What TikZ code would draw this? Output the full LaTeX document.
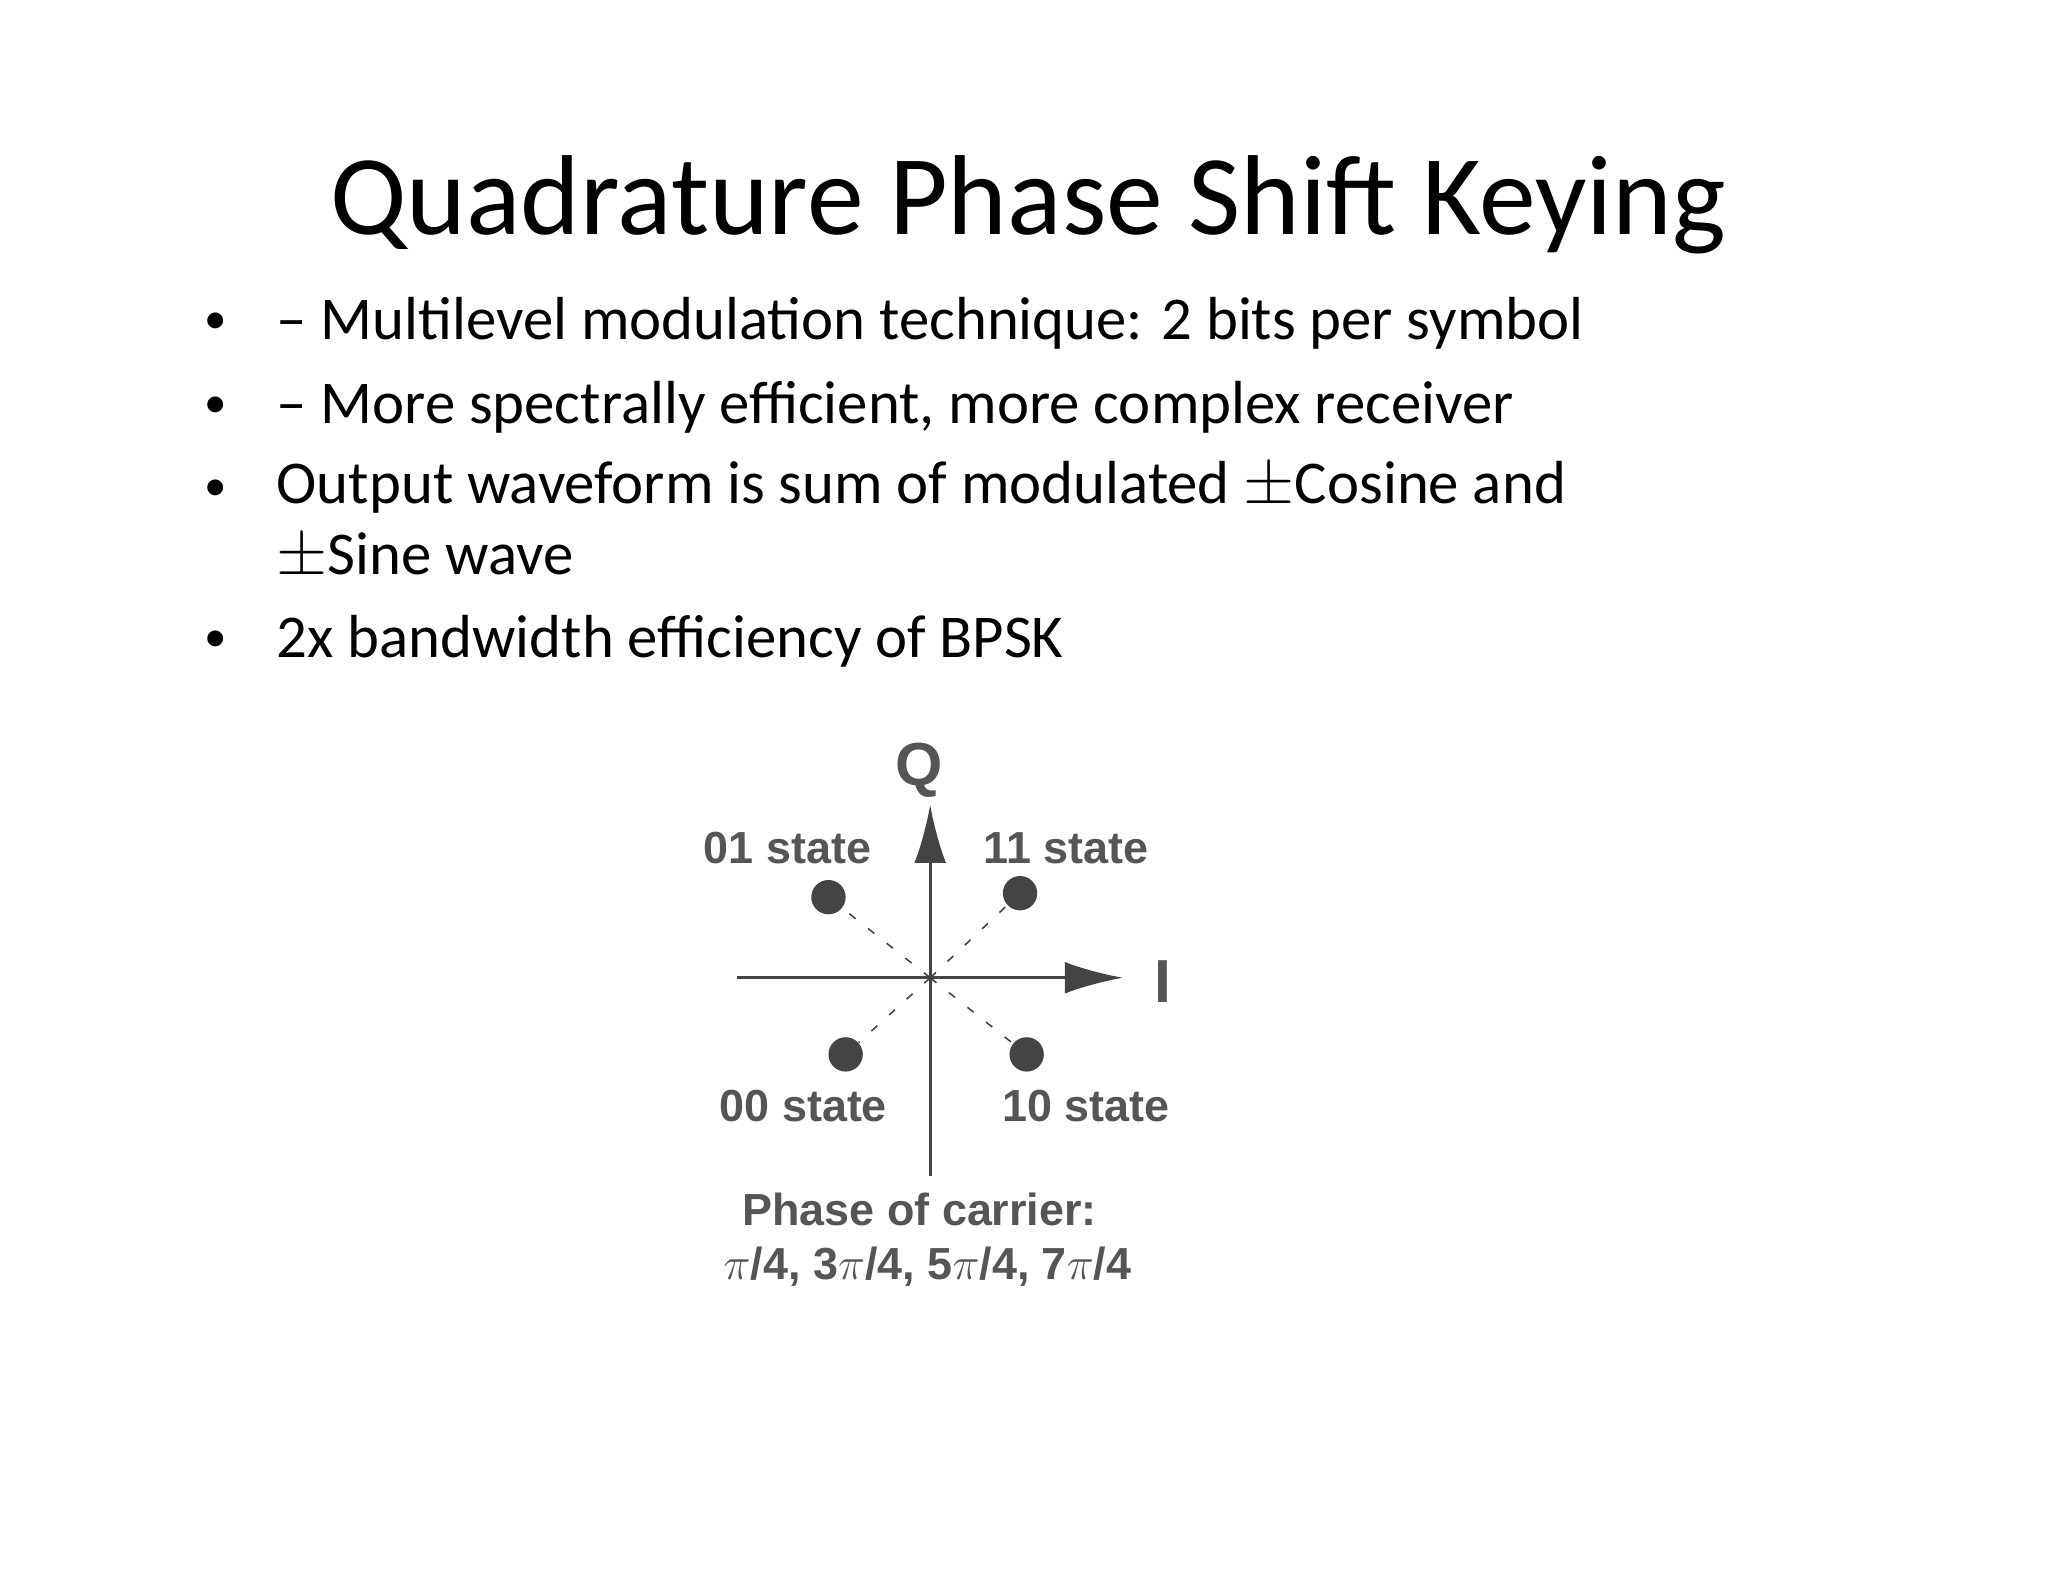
\documentclass[tikz,border=0pt]{standalone}
\usepackage{fontspec}
\setmainfont{Carlito}
\newfontfamily\arialf{Liberation Sans}
\usetikzlibrary{arrows.meta}
\definecolor{dg}{HTML}{444444}
\definecolor{lg}{HTML}{555555}
\begin{document}
\begin{tikzpicture}[x=0.5pt,y=0.5pt,
  bul/.style={anchor=west,font=\fontsize{23}{27}\selectfont,inner sep=0},
  lab/.style={font=\arialf\bfseries\fontsize{17}{20}\selectfont,text=lg,inner sep=0},
  dot/.style={circle,fill=dg,minimum size=13pt,inner sep=0},
  ax/.style={draw=dg,line width=1.2pt}]
\useasboundingbox (0,0) rectangle (1550,-1197);
\node (title) at (778,-155) {\fontsize{43}{50}\selectfont Quadrature Phase Shift Keying};
\foreach \n/\y in {1/245,2/308,3/371,5/485}{\node (b\n) at (163,-\y) {\fontsize{17}{20}\selectfont •};}
\node[bul] (t1) at (209,-245) {– Multilevel modulation technique: 2 bits per symbol};
\node[bul] (t2) at (209,-308) {– More spectrally efficient, more complex receiver};
\node[bul] (t3) at (209,-369) {Output waveform is sum of modulated $\pm$Cosine and};
\node[bul] (t4) at (209,-421) {$\pm$Sine wave};
\node[bul] (t5) at (209,-485) {2x bandwidth efficiency of BPSK};
% diagram
\begin{scope}[shift={(-7,7)}]
\coordinate (o) at (711,-747);
\coordinate (il) at (565,-747);
\coordinate (ir) at (857,-747);
\coordinate (qb) at (711,-897);
\coordinate (qt) at (711,-616);
\draw[ax,-{Latex[length=22,width=12]}] (il) -- (ir);
\draw[ax,-{Latex[length=22,width=12]}] (qb) -- (qt);
\node[font=\arialf\bfseries\fontsize{23}{27}\selectfont,text=lg] (Q) at (703,-590) {Q};
\node[font=\arialf\bfseries\fontsize{23}{27}\selectfont,text=lg] (I) at (887,-750) {I};
\node[dot] (d01) at (634,-686) {};
\node[dot] (d11) at (779,-683) {};
\node[dot] (d00) at (647,-805) {};
\node[dot] (d10) at (784,-805) {};
\foreach \d in {d01,d11,d00,d10}{\draw[dg,line width=0.6pt,dash pattern=on 3pt off 6pt] (o) -- (\d);}
\node[lab] (l01) at (603,-649) {01 state};
\node[lab] (l11) at (814,-649) {11 state};
\node[lab] (l00) at (615,-844) {00 state};
\node[lab] (l10) at (829,-844) {10 state};
\node[lab] (p1) at (703,-922) {Phase of carrier:};
\node[lab] (p2) at (709,-966) {$\pi$/4, 3$\pi$/4, 5$\pi$/4, 7$\pi$/4};
\end{scope}
\end{tikzpicture}
\end{document}
